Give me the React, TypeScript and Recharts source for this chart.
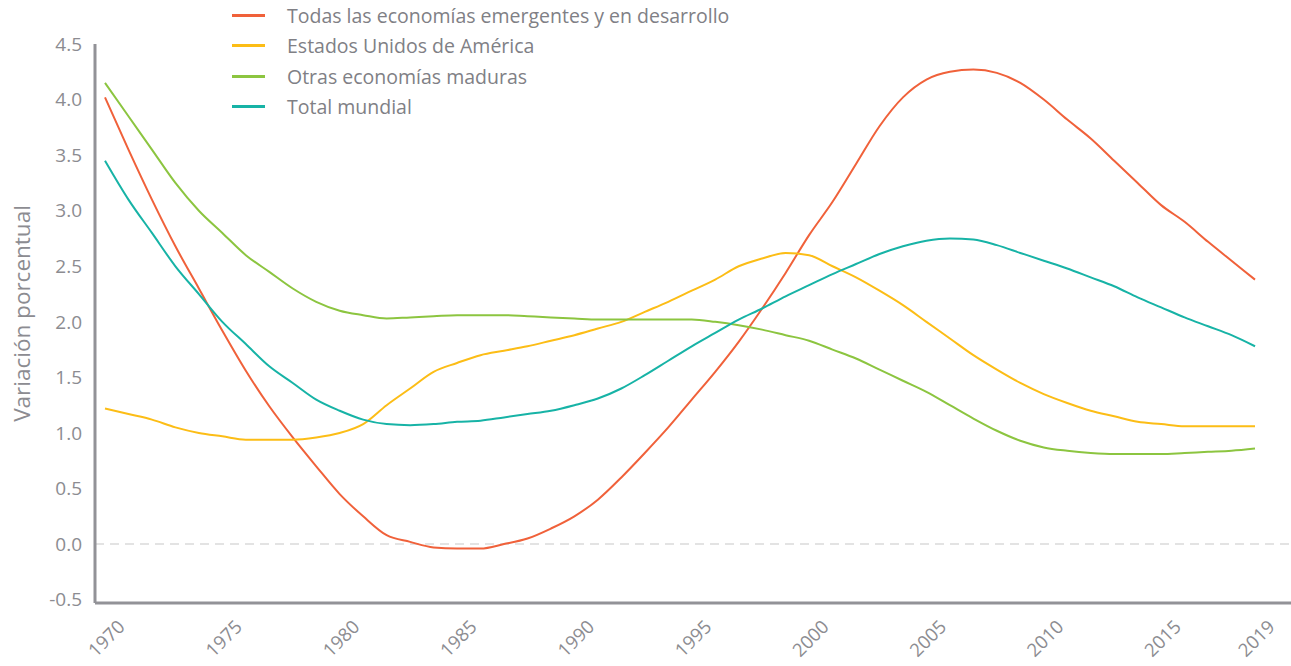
import { LineChart, Line, XAxis, YAxis, Legend, ReferenceLine, Label } from 'recharts';

const years = Array.from({ length: 50 }, (_, i) => 1970 + i);

const emergentes = [
  4.02, 3.55, 3.1, 2.68, 2.3, 1.92, 1.56, 1.24, 0.96, 0.7,
  0.45, 0.25, 0.08, 0.02, -0.03, -0.04, -0.04, 0.0, 0.05, 0.14,
  0.25, 0.4, 0.6, 0.82, 1.05, 1.3, 1.55, 1.82, 2.12, 2.44,
  2.78, 3.08, 3.42, 3.76, 4.02, 4.18, 4.25, 4.27, 4.24, 4.15,
  4.0, 3.82, 3.65, 3.45, 3.25, 3.05, 2.9, 2.72, 2.55, 2.38,
];
const eeuu = [
  1.22, 1.17, 1.12, 1.05, 1.0, 0.97, 0.94, 0.94, 0.94, 0.96,
  1.0, 1.08, 1.25, 1.4, 1.55, 1.63, 1.7, 1.74, 1.78, 1.83,
  1.88, 1.94, 2.0, 2.09, 2.18, 2.28, 2.38, 2.5, 2.57, 2.62,
  2.6, 2.5, 2.4, 2.28, 2.15, 2.0, 1.85, 1.7, 1.57, 1.45,
  1.35, 1.27, 1.2, 1.15, 1.1, 1.08, 1.06, 1.06, 1.06, 1.06,
];
const maduras = [
  4.15, 3.85, 3.55, 3.25, 3.0, 2.8, 2.6, 2.45, 2.3, 2.18,
  2.1, 2.06, 2.03, 2.04, 2.05, 2.06, 2.06, 2.06, 2.05, 2.04,
  2.03, 2.02, 2.02, 2.02, 2.02, 2.02, 2.0, 1.97, 1.93, 1.88,
  1.83, 1.75, 1.67, 1.57, 1.47, 1.37, 1.25, 1.13, 1.02, 0.93,
  0.87, 0.84, 0.82, 0.81, 0.81, 0.81, 0.82, 0.83, 0.84, 0.86,
];
const mundial = [
  3.45, 3.1, 2.8, 2.5, 2.25, 2.0, 1.8, 1.6, 1.45, 1.3,
  1.2, 1.12, 1.08, 1.07, 1.08, 1.1, 1.11, 1.14, 1.17, 1.2,
  1.25, 1.31, 1.4, 1.52, 1.65, 1.78, 1.9, 2.02, 2.12, 2.23,
  2.33, 2.43, 2.52, 2.61, 2.68, 2.73, 2.75, 2.74, 2.69, 2.62,
  2.55, 2.48, 2.4, 2.32, 2.22, 2.13, 2.04, 1.96, 1.88, 1.78,
];

const xTicks = [1970, 1975, 1980, 1985, 1990, 1995, 2000, 2005, 2010, 2015, 2019];
const yTicks = [-0.5, 0, 0.5, 1, 1.5, 2, 2.5, 3, 3.5, 4, 4.5];

const series = [
  { key: 'emergentes', name: 'Todas las economías emergentes y en desarrollo', color: '#f0613a' },
  { key: 'eeuu', name: 'Estados Unidos de América', color: '#fcbd16' },
  { key: 'maduras', name: 'Otras economías maduras', color: '#8cc540' },
  { key: 'mundial', name: 'Total mundial', color: '#17b3a6' },
];

const data = years.map((year, i) => ({
  year,
  emergentes: emergentes[i],
  eeuu: eeuu[i],
  maduras: maduras[i],
  mundial: mundial[i],
}));

const font = '"Open Sans", sans-serif';
const grey = '#8c8c91';

const XTick = ({ x, y, payload }: any) => (
  <text
    transform={`translate(${x + 21},${y + 17}) rotate(-45)`}
    textAnchor="end"
    fill={grey}
    fontSize={18.5}
    fontFamily={font}
  >
    {payload.value}
  </text>
);

const LegendBox = () => (
  <div style={{ fontFamily: font }}>
    {series.map((s) => (
      <div key={s.key} style={{ display: 'flex', alignItems: 'center', height: 30.5 }}>
        <span style={{ display: 'inline-block', width: 33, height: 3, background: s.color, marginRight: 22 }} />
        <span style={{ fontSize: 19.5, color: '#808085', whiteSpace: 'nowrap' }}>{s.name}</span>
      </div>
    ))}
  </div>
);

export default function App() {
  return (
    <div style={{ position: 'absolute', left: 0, top: 0, width: 1291, height: 666, background: '#fff' }}>
      <LineChart width={1291} height={666} data={data} margin={{ top: 44, right: 0, bottom: 3, left: 0 }}>
        <XAxis
          dataKey="year"
          type="number"
          domain={[1970, 2019]}
          padding={{ left: 10, right: 36 }}
          ticks={xTicks}
          interval={0}
          tick={<XTick />}
          tickLine={false}
          height={60}
          stroke="#929297"
          strokeWidth={3}
        />
        <YAxis
          type="number"
          domain={[-0.53, 4.5]}
          ticks={yTicks}
          interval={0}
          allowDataOverflow
          tickFormatter={(v: number) => v.toFixed(1)}
          tick={{ fill: grey, fontSize: 19, fontFamily: font }}
          tickLine={false}
          tickSize={0}
          tickMargin={13}
          width={95}
          stroke="#929297"
          strokeWidth={3}
        >
          <Label
            content={({ viewBox }: any) => (
              <text
                transform={`translate(30,${viewBox.y + viewBox.height / 2 - 10}) rotate(-90)`}
                textAnchor="middle"
                fill={grey}
                fontSize={22.5}
                fontFamily={font}
              >
                Variación porcentual
              </text>
            )}
          />
        </YAxis>
        <ReferenceLine y={0} stroke="#e3e3e3" strokeWidth={2} strokeDasharray="9 6" />
        <Legend
          layout="vertical"
          align="center"
          verticalAlign="middle"
          content={<LegendBox />}
          wrapperStyle={{ left: 232, top: 0, width: 'auto' }}
        />
        {series.map((s) => (
          <Line
            key={s.key}
            dataKey={s.key}
            name={s.name}
            type="monotone"
            stroke={s.color}
            strokeWidth={2}
            dot={false}
            activeDot={false}
            isAnimationActive={false}
          />
        ))}
      </LineChart>
    </div>
  );
}
